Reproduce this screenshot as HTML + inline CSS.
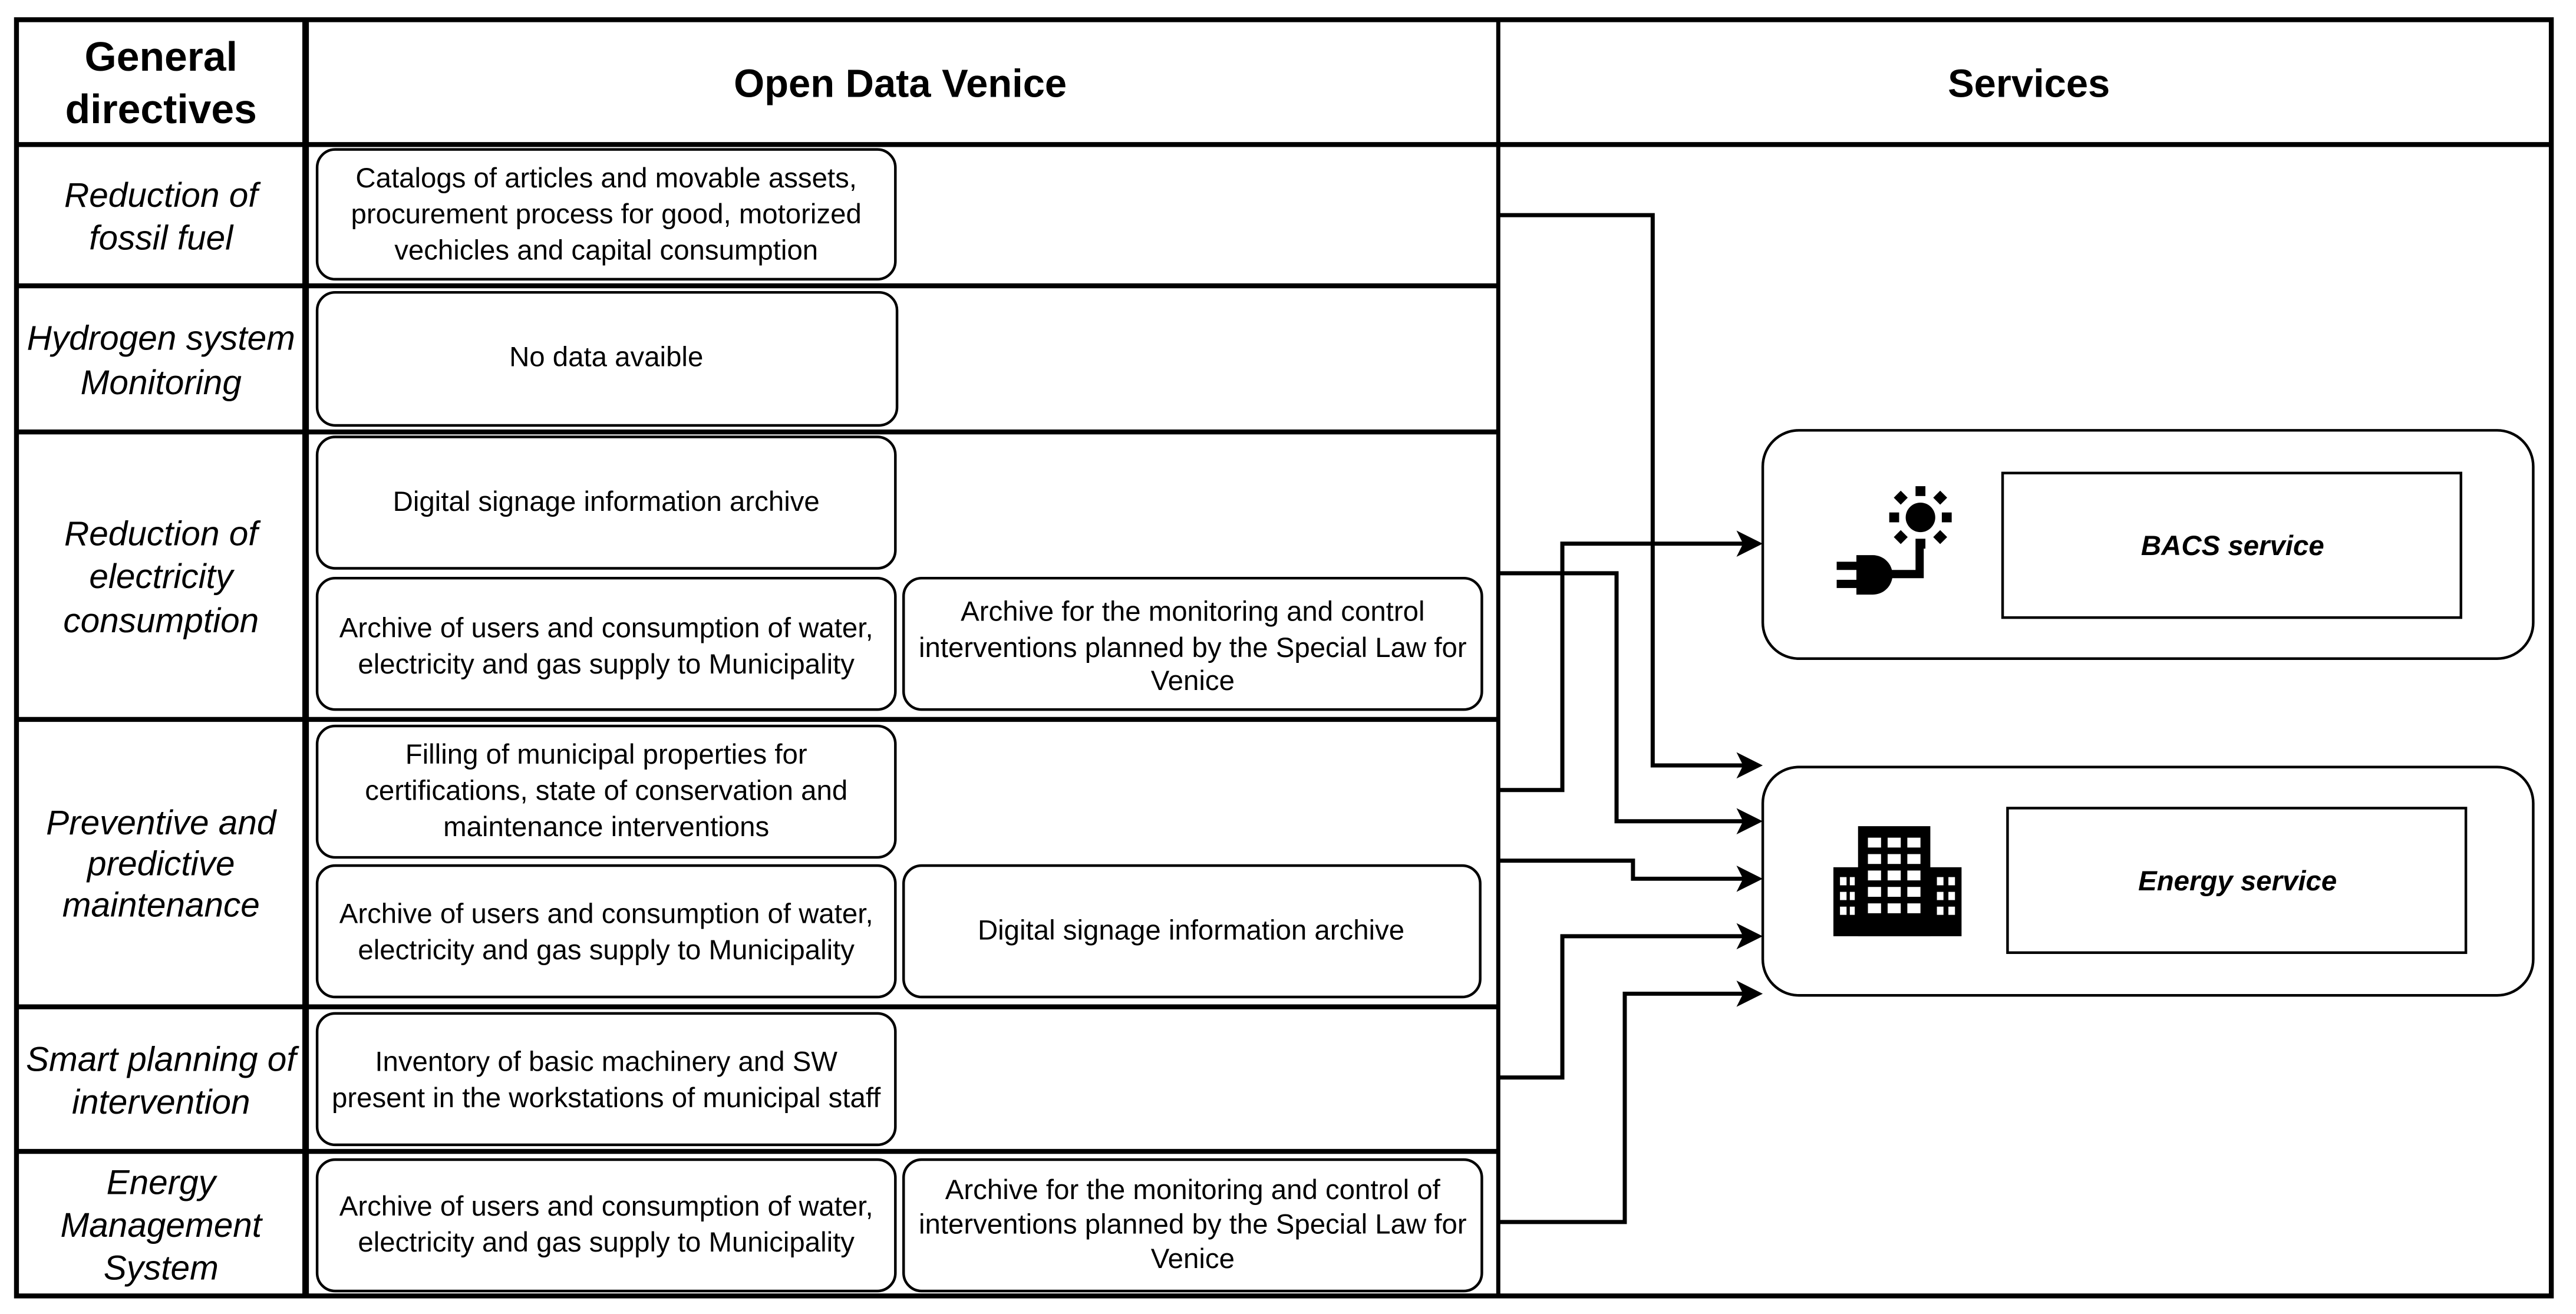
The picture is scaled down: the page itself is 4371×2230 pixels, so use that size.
<!DOCTYPE html>
<html><head><meta charset="utf-8"><style>
html,body{margin:0;padding:0;background:#fff}
svg{display:block}
text{font-family:"Liberation Sans",Arial,sans-serif;fill:#000}
.h{font-weight:bold;font-size:24px}
.h2{font-weight:bold;font-size:25px}
.d{font-style:italic;font-size:21px}
.b{font-size:17px}
.s{font-weight:bold;font-style:italic;font-size:17px}
</style></head><body>
<svg width="4371" height="2230" viewBox="0 0 1568 800" xmlns="http://www.w3.org/2000/svg">
<rect width="1568" height="800" fill="#fff"/>
<g stroke="#000" fill="none">
<rect x="10" y="12" width="1543" height="777" stroke-width="3"/>
<line x1="186" y1="12" x2="186" y2="789" stroke-width="4"/>
<line x1="912" y1="12" x2="912" y2="789" stroke-width="2.5"/>
<line x1="10" y1="88" x2="1553" y2="88" stroke-width="3"/>
<g stroke-width="3">
<line x1="10" y1="174" x2="912" y2="174"/>
<line x1="10" y1="263" x2="912" y2="263"/>
<line x1="10" y1="438" x2="912" y2="438"/>
<line x1="10" y1="613" x2="912" y2="613"/>
<line x1="10" y1="701" x2="912" y2="701"/>
</g>
<g stroke-width="1.6">
<rect x="193" y="91" width="352" height="79" rx="11"/>
<rect x="193" y="178" width="353" height="81" rx="11"/>
<rect x="193" y="266" width="352" height="80" rx="11"/>
<rect x="193" y="352" width="352" height="80" rx="11"/>
<rect x="550" y="352" width="352" height="80" rx="11"/>
<rect x="193" y="442" width="352" height="80" rx="11"/>
<rect x="193" y="527" width="352" height="80" rx="11"/>
<rect x="550" y="527" width="351" height="80" rx="11"/>
<rect x="193" y="617" width="352" height="80" rx="11"/>
<rect x="193" y="706" width="352" height="80" rx="11"/>
<rect x="550" y="706" width="352" height="80" rx="11"/>
<rect x="1073" y="262" width="469" height="139" rx="22"/>
<rect x="1219" y="288" width="279" height="88"/>
<rect x="1073" y="467" width="469" height="139" rx="22"/>
<rect x="1222" y="492" width="279" height="88"/>
</g>
<g stroke-width="2.5">
<polyline points="912,131 1006,131 1006,466 1062,466"/>
<polyline points="912,481 951,481 951,331 1062,331"/>
<polyline points="912,349 984,349 984,500 1062,500"/>
<polyline points="912,524 994,524 994,535 1062,535"/>
<polyline points="912,656 951,656 951,570 1062,570"/>
<polyline points="912,744 989,744 989,605 1062,605"/>
</g>
</g>
<g fill="#000">
<path d="M1073,466 l-16,-8 l4,8 l-4,8z"/>
<path d="M1073,331 l-16,-8 l4,8 l-4,8z"/>
<path d="M1073,500 l-16,-8 l4,8 l-4,8z"/>
<path d="M1073,535 l-16,-8 l4,8 l-4,8z"/>
<path d="M1073,570 l-16,-8 l4,8 l-4,8z"/>
<path d="M1073,605 l-16,-8 l4,8 l-4,8z"/>
</g>
<!-- BACS icon -->
<g fill="#000">
<circle cx="1169" cy="315" r="9"/>
<rect x="1166" y="296" width="6" height="6"/>
<rect x="1166" y="328" width="6" height="6"/>
<rect x="1150" y="312" width="6" height="6"/>
<rect x="1182" y="312" width="6" height="6"/>
<rect x="1154" y="300" width="6" height="6" transform="rotate(45 1157 303)"/>
<rect x="1178" y="300" width="6" height="6" transform="rotate(45 1181 303)"/>
<rect x="1154" y="324" width="6" height="6" transform="rotate(45 1157 327)"/>
<rect x="1178" y="324" width="6" height="6" transform="rotate(45 1181 327)"/>
<path d="M1130,338 h10 a12,12 0 0 1 0,24 h-10z"/>
<rect x="1118" y="342" width="13" height="5"/>
<rect x="1118" y="353" width="13" height="5"/>
<path d="M1148,347 h18 v-13 h5 v18 h-23z"/>
</g>
<g fill="#000">
<rect x="1131" y="503" width="44" height="67"/>
<rect x="1116" y="528" width="78" height="42"/>
</g>
<g fill="#fff">
<rect x="1137" y="510" width="8" height="6"/><rect x="1149" y="510" width="8" height="6"/><rect x="1161" y="510" width="8" height="6"/>
<rect x="1137" y="520" width="8" height="6"/><rect x="1149" y="520" width="8" height="6"/><rect x="1161" y="520" width="8" height="6"/>
<rect x="1137" y="530" width="8" height="6"/><rect x="1149" y="530" width="8" height="6"/><rect x="1161" y="530" width="8" height="6"/>
<rect x="1137" y="540" width="8" height="6"/><rect x="1149" y="540" width="8" height="6"/><rect x="1161" y="540" width="8" height="6"/>
<rect x="1137" y="550" width="8" height="6"/><rect x="1149" y="550" width="8" height="6"/><rect x="1161" y="550" width="8" height="6"/>
<rect x="1120" y="534" width="4" height="5"/><rect x="1126" y="534" width="3" height="5"/>
<rect x="1120" y="543" width="4" height="5"/><rect x="1126" y="543" width="3" height="5"/>
<rect x="1120" y="552" width="4" height="5"/><rect x="1126" y="552" width="3" height="5"/>
<rect x="1179" y="534" width="4" height="5"/><rect x="1186" y="534" width="4" height="5"/>
<rect x="1179" y="543" width="4" height="5"/><rect x="1186" y="543" width="4" height="5"/>
<rect x="1179" y="552" width="4" height="5"/><rect x="1186" y="552" width="4" height="5"/>
</g>
<g text-anchor="middle">
<text class="h2" x="98" y="43">General</text>
<text class="h2" x="98" y="75">directives</text>
<text class="h" x="548" y="59">Open Data Venice</text>
<text class="h" x="1235" y="59">Services</text>
<text class="d" x="98" y="126">Reduction of</text>
<text class="d" x="98" y="152">fossil fuel</text>
<text class="d" x="98" y="213">Hydrogen system</text>
<text class="d" x="98" y="240">Monitoring</text>
<text class="d" x="98" y="332">Reduction of</text>
<text class="d" x="98" y="358">electricity</text>
<text class="d" x="98" y="385">consumption</text>
<text class="d" x="98" y="508">Preventive and</text>
<text class="d" x="98" y="533">predictive</text>
<text class="d" x="98" y="558">maintenance</text>
<text class="d" x="98" y="652">Smart planning of</text>
<text class="d" x="98" y="678">intervention</text>
<text class="d" x="98" y="727">Energy</text>
<text class="d" x="98" y="753">Management</text>
<text class="d" x="98" y="779">System</text>
<text class="b" x="369" y="114">Catalogs of articles and movable assets,</text>
<text class="b" x="369" y="136">procurement process for good, motorized</text>
<text class="b" x="369" y="158">vechicles and capital consumption</text>
<text class="b" x="369" y="223">No data avaible</text>
<text class="b" x="369" y="311">Digital signage information archive</text>
<text class="b" x="369" y="388">Archive of users and consumption of water,</text>
<text class="b" x="369" y="410">electricity and gas supply to Municipality</text>
<text class="b" x="726" y="378">Archive for the monitoring and control</text>
<text class="b" x="726" y="400">interventions planned by the Special Law for</text>
<text class="b" x="726" y="420">Venice</text>
<text class="b" x="369" y="465">Filling of municipal properties for</text>
<text class="b" x="369" y="487">certifications, state of conservation and</text>
<text class="b" x="369" y="509">maintenance interventions</text>
<text class="b" x="369" y="562">Archive of users and consumption of water,</text>
<text class="b" x="369" y="584">electricity and gas supply to Municipality</text>
<text class="b" x="725" y="572">Digital signage information archive</text>
<text class="b" x="369" y="652">Inventory of basic machinery and SW</text>
<text class="b" x="369" y="674">present in the workstations of municipal staff</text>
<text class="b" x="369" y="740">Archive of users and consumption of water,</text>
<text class="b" x="369" y="762">electricity and gas supply to Municipality</text>
<text class="b" x="726" y="730">Archive for the monitoring and control of</text>
<text class="b" x="726" y="751">interventions planned by the Special Law for</text>
<text class="b" x="726" y="772">Venice</text>
<text class="s" x="1359" y="338">BACS service</text>
<text class="s" x="1362" y="542">Energy service</text>
</g>
</svg>
</body></html>
